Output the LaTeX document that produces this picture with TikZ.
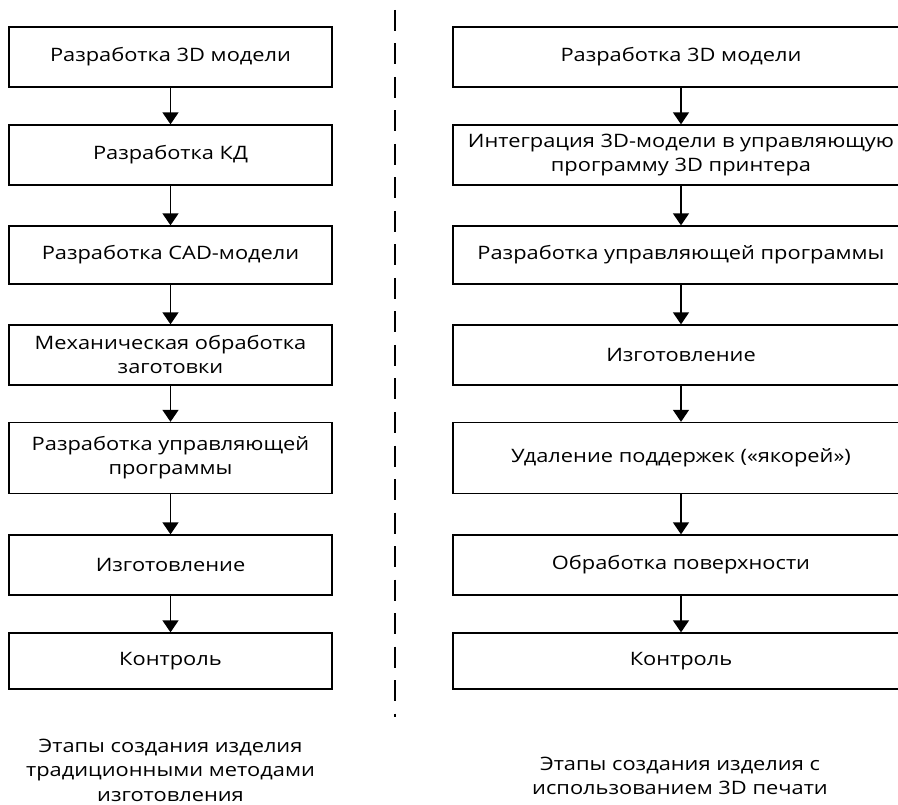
\documentclass[tikz,border=0pt]{standalone}
\usepackage{fontspec}
\setmainfont[FakeStretch=1.18]{Open Sans}
\usetikzlibrary{positioning, arrows.meta}
\tikzstyle{stage}=[
  rectangle,
  draw=black,
  line width=1.3pt,
  align=center,
  inner sep=2pt,
  minimum height=60pt,
  font={\fontsize{18.5}{24}\selectfont}
]
\tikzstyle{flow}=[
  -{Triangle[length=12pt,width=16pt]},
  line width=1.4pt
]
\tikzstyle{caption}=[
  align=center,
  font={\fontsize{18.5}{24.5}\selectfont}
]

\begin{document}
\begin{tikzpicture}[x=1pt,y=-1pt]

\clip (0,0) rectangle (898,805);

\newcommand\LX{170.5}
\newcommand\RX{681}
\newcommand\LW{323pt}
\newcommand\RW{456pt}

%% traditional route
\node[stage, minimum width=\LW] (l1) at (\LX, 57) {Разработка 3D модели};
\node[stage, minimum width=\LW] (l2) at (\LX, 155) {Разработка КД};
\node[stage, minimum width=\LW, minimum height=58pt] (l3) at (\LX, 255) {Разработка CAD-модели};
\node[stage, minimum width=\LW] (l4) at (\LX, 355) {Механическая обработка\\заготовки};
\node[stage, minimum width=\LW, minimum height=71pt] (l5) at (\LX, 458) {Разработка управляющей\\программы};
\node[stage, minimum width=\LW] (l6) at (\LX, 565) {Изготовление};
\node[stage, minimum width=\LW, minimum height=56pt] (l7) at (\LX, 661) {Контроль};

%% 3D printing route
\node[stage, minimum width=\RW] (r1) at (\RX, 57) {Разработка 3D модели};
\node[stage, minimum width=\RW] (r2) at (\RX, 155) {Интеграция 3D-модели в управляющую\\программу 3D принтера};
\node[stage, minimum width=\RW, minimum height=58pt] (r3) at (\RX, 255) {Разработка управляющей программы};
\node[stage, minimum width=\RW] (r4) at (\RX, 355) {Изготовление};
\node[stage, minimum width=\RW, minimum height=71pt] (r5) at (\RX, 458) {Удаление поддержек («якорей»)};
\node[stage, minimum width=\RW] (r6) at (\RX, 565) {Обработка поверхности};
\node[stage, minimum width=\RW, minimum height=56pt] (r7) at (\RX, 661) {Контроль};

%% arrows
\foreach \i/\j in {1/2, 2/3, 3/4, 4/5, 5/6, 6/7} {
  \draw[flow] (l\i) -- (l\j);
  \draw[flow] (r\i) -- (r\j);
}

%% divider
\draw[line width=1.3pt, dash pattern=on 21pt off 12.5pt] (395, 10) -- (395, 717);

%% captions
\node[caption] (tradcap) at (\LX, 770) {Этапы создания изделия\\традиционными методами\\изготовления};
\node[caption] (printcap) at (680, 776) {Этапы создания изделия с\\использованием 3D печати};

\end{tikzpicture}
\end{document}
